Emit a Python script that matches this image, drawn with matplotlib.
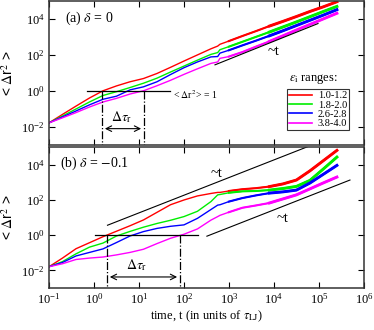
import numpy as np
import matplotlib
matplotlib.use("Agg")
import matplotlib.pyplot as plt

plt.rcParams['font.family'] = ['Liberation Serif', 'DejaVu Serif']
plt.rcParams['mathtext.fontset'] = 'stix'

# --- data: log10(time) grid and log10(<dr^2>) ---
log_t = [-1, -0.7, -0.4, -0.1, 0.2, 0.5, 0.8, 1.1, 1.4, 1.7, 2.0, 2.3,
         2.6, 2.75, 2.8, 3.0, 3.3, 3.6, 3.9, 4.2, 4.5, 4.8, 5.1, 5.4]

labels = ["1.0-1.2", "1.8-2.0", "2.6-2.8", "3.8-4.0"]
colors = ["#ff0000", "#00ee00", "#0000ff", "#ff00ff"]

# panel (a), delta = 0
a_red = [-1.78, -1.31, -0.85, -0.40, 0.00, 0.27, 0.50, 0.68, 0.96, 1.30, 1.65, 1.99,
         2.33, 2.48, 2.58, 2.76, 3.04, 3.31, 3.59, 3.85, 4.12, 4.40, 4.66, 4.94]
a_green = [-1.78, -1.40, -1.01, -0.62, -0.26, -0.05, 0.18, 0.42, 0.70, 1.04, 1.37, 1.70,
           2.02, 2.12, 2.28, 2.45, 2.72, 2.99, 3.26, 3.54, 3.82, 4.11, 4.40, 4.68]
a_blue = [-1.78, -1.45, -1.12, -0.78, -0.47, -0.30, 0.05, 0.22, 0.50, 0.90, 1.28, 1.60,
          1.88, 1.90, 2.09, 2.25, 2.52, 2.78, 3.05, 3.33, 3.62, 3.91, 4.20, 4.50]
a_mag = [-1.78, -1.50, -1.21, -0.90, -0.62, -0.42, -0.18, 0.00, 0.28, 0.58, 0.91, 1.22,
         1.52, 1.60, 1.80, 1.90, 2.15, 2.45, 2.74, 3.05, 3.37, 3.68, 3.99, 4.30]

# panel (b), delta = -0.1
b_red = [-1.79, -1.30, -0.77, -0.43, -0.09, 0.22, 0.53, 0.86, 1.29, 1.72, 1.99, 2.22,
         2.36, 2.42, 2.42, 2.50, 2.60, 2.66, 2.75, 2.90, 3.12, 3.64, 4.22, 4.80]
b_green = [-1.79, -1.50, -1.06, -0.68, -0.45, -0.05, 0.21, 0.45, 0.66, 0.84, 1.05, 1.35,
           1.90, 2.28, 2.30, 2.40, 2.48, 2.50, 2.55, 2.64, 2.76, 3.10, 3.75, 4.42]
b_blue = [-1.79, -1.55, -1.18, -0.98, -0.78, -0.42, -0.05, 0.20, 0.38, 0.50, 0.58, 0.95,
          1.45, 1.70, 1.72, 1.90, 2.10, 2.25, 2.38, 2.45, 2.55, 2.95, 3.45, 3.95]
b_mag = [-1.79, -1.62, -1.38, -1.30, -1.24, -1.12, -0.98, -0.80, -0.48, -0.18, 0.05, 0.35,
         0.85, 1.05, 1.12, 1.30, 1.55, 1.68, 1.82, 2.05, 2.28, 2.62, 2.96, 3.29]

# guide lines ~t : (log t start, log t end, log msd start)
a_slope_line = (2.69, 4.98, 1.44)
b_slope_upper = (0.30, 4.75, 0.56)
b_slope_lower = (2.51, 5.69, -0.06)

# relaxation times (log10 t) where <dr^2> = 1
a_tau = (0.18, 1.11)
b_tau = (0.29, 1.91)

t = 10.0 ** np.array(log_t)

fig = plt.figure(figsize=(3.74, 3.30), dpi=100)
ax_a = fig.add_axes([0.131, 0.561, 0.842, 0.437])
ax_b = fig.add_axes([0.131, 0.127, 0.842, 0.428])


def setup(ax):
    ax.set_xscale('log')
    ax.set_yscale('log')
    ax.set_xlim(1e-1, 1e6)
    ax.set_ylim(1e-3, 1e5)
    ax.set_xticks([10.0 ** k for k in range(-1, 7)])
    ax.set_yticks([1e-2, 1e0, 1e2, 1e4])
    ax.minorticks_off()
    ax.tick_params(direction='in', top=True, right=True, length=4.5, width=0.8,
                   labelsize=9, pad=3)
    for s in ax.spines.values():
        s.set_linewidth(1.1)
        s.set_color('#333333')
    ax.set_ylabel(r'< $\Delta$r$^2$ >', family=['Liberation Sans', 'DejaVu Sans'],
                  fontsize=10, labelpad=4)


def draw_curves(ax, series):
    # noise grows with time, so the late part of each curve is drawn wider
    for ys, c in zip(series, colors):
        y = 10.0 ** np.array(ys)
        ax.plot(t, y, color=c, lw=1.0)
        m = t >= 10.0 ** 3.0
        ax.plot(t[m], y[m], color=c, lw=1.5)
        m = t >= 10.0 ** 3.9
        ax.plot(t[m], y[m], color=c, lw=2.1)


def slope_line(ax, spec):
    x0, x1, y0 = spec
    ax.plot([10 ** x0, 10 ** x1], [10 ** y0, 10 ** (y0 + x1 - x0)], color='k', lw=0.8)


# --- panel (a) ---
setup(ax_a)
ax_a.tick_params(labelbottom=False)
draw_curves(ax_a, [a_red, a_green, a_blue, a_mag])
slope_line(ax_a, a_slope_line)
ax_a.text(10 ** 3.85, 10 ** 2.0, '~t', fontsize=10.5)
ax_a.plot([10 ** -0.16, 10 ** 1.69], [1, 1], color='k', lw=0.9)
ax_a.text(10 ** 1.76, 10 ** -0.22, r'< $\Delta$r$^2$> = 1', fontsize=7, va='center')
for lt in a_tau:
    ax_a.plot([10 ** lt, 10 ** lt], [1, 1e-3], color='k', lw=0.9, ls='-.')
ax_a.annotate('', xy=(10 ** a_tau[0], 10 ** -2.1), xytext=(10 ** a_tau[1], 10 ** -2.1),
              arrowprops=dict(arrowstyle='<->', lw=0.8, color='k'))
ax_a.text(10 ** 0.62, 10 ** -1.45, r'$\Delta\tau_{\rm r}$', fontsize=10, ha='center', va='center')
ax_a.text(0.05, 0.88, r'(a) $\delta$ = 0', transform=ax_a.transAxes, fontsize=10, va='center')

handles = [plt.Line2D([], [], color=c, lw=1.2) for c in colors]
leg = ax_a.legend(handles, labels, loc='lower right', bbox_to_anchor=(0.952, 0.105),
                  fontsize=7.5, frameon=True, fancybox=False, handlelength=2.2,
                  handletextpad=0.6, labelspacing=0.0, borderpad=0.15,
                  borderaxespad=0.0, edgecolor='k')
leg.get_frame().set_linewidth(0.8)
ax_a.text(0.84, 0.455, r'$\epsilon_{\rm i}$ ranges:', transform=ax_a.transAxes,
          fontsize=9, ha='center', va='center')

# --- panel (b) ---
setup(ax_b)
draw_curves(ax_b, [b_red, b_green, b_blue, b_mag])
slope_line(ax_b, b_slope_upper)
slope_line(ax_b, b_slope_lower)
ax_b.text(10 ** 2.73, 10 ** 3.5, '~t', fontsize=10.5, ha='center', va='center')
ax_b.text(10 ** 4.2, 10 ** 0.96, '~t', fontsize=10.5, ha='center', va='center')
ax_b.plot([10 ** 0.02, 10 ** 2.31], [1, 1], color='k', lw=0.9)
for lt in b_tau:
    ax_b.plot([10 ** lt, 10 ** lt], [1, 1e-3], color='k', lw=0.9, ls='-.')
ax_b.annotate('', xy=(10 ** b_tau[0], 10 ** -2.37), xytext=(10 ** b_tau[1], 10 ** -2.37),
              arrowprops=dict(arrowstyle='<->', lw=0.8, color='k'))
ax_b.text(10 ** 0.95, 10 ** -1.7, r'$\Delta\tau_{\rm r}$', fontsize=10, ha='center', va='center')
ax_b.text(0.035, 0.88, r'(b) $\delta$ = $-$0.1', transform=ax_b.transAxes, fontsize=10, va='center')
ax_b.set_xlabel(r'time, t (in units of $\tau_{\rm LJ}$)', fontsize=9, labelpad=1)

fig.savefig('out.png', dpi=100)
